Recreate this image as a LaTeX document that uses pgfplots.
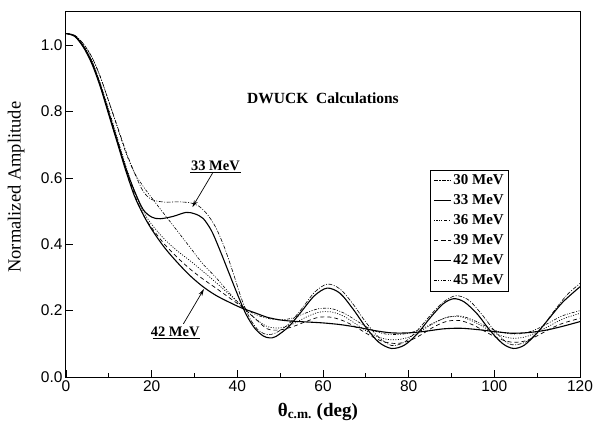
\documentclass[border=0pt]{standalone}
\usepackage{fontspec}
\setmainfont{Liberation Serif}
\newfontfamily\ticksf{Liberation Sans}
\usepackage{pgfplots}
\pgfplotsset{compat=1.18}
\usetikzlibrary{arrows.meta}

\begin{document}
\begin{tikzpicture}
  \useasboundingbox (-66pt,-49pt) rectangle (533pt,377pt);
  \begin{axis}[
      at={(0,0)}, anchor=origin,
      scale only axis,
      width=514pt, height=365pt,
      xmin=0, xmax=120, ymin=0, ymax=1.1,
      xtick={0,20,...,120}, minor xtick={10,30,...,110},
      ytick={0,0.2,...,1.0},
      tick pos=left, tick align=inside,
      major tick length=7pt, minor tick length=4pt,
      axis line style={line width=1pt},
      every tick/.style={line width=0.8pt},
      /pgf/number format/assume math mode=true,
      tick label style={font=\ticksf\fontsize{15.5}{15.5}\selectfont},
      yticklabel style={/pgf/number format/.cd, fixed, fixed zerofill, precision=1},
      xlabel={\bfseries θ\textsubscript{c.m.} (deg)},
      xlabel style={font=\fontsize{19}{19}\selectfont, at={(axis description cs:0.49,-0.095)}, anchor=center},
      ylabel={Normalized Amplitude},
      ylabel style={font=\fontsize{18.5}{18.5}\selectfont, at={(axis description cs:-0.097,0.52)}, anchor=center},
      legend style={at={(axis cs:85,0.625)}, anchor=north west,
        font=\bfseries\fontsize{15}{15}\selectfont, draw=black, line width=0.8pt,
        row sep=4.5pt, inner sep=3pt},
      legend cell align=left,
      legend image post style={line width=0.8pt},
      clip=false,
    ]
    % 30 MeV
    \addplot[black, line width=0.6pt, smooth, dash pattern=on 4pt off 1.5pt on 1pt off 1.5pt] coordinates {
      (0,1.035)(2,1.03)(4,1.005)(6,0.965)(8,0.905)(10,0.83)(12,0.755)(14,0.68)(16,0.615)
      (18,0.56)(20,0.535)(23,0.527)(26,0.528)(29,0.525)(31,0.515)(33,0.49)(35,0.45)
      (37,0.39)(39,0.315)(41,0.235)(43,0.175)(45,0.14)(47,0.128)(49,0.133)(52,0.16)
      (55,0.205)(58,0.255)(61,0.28)(64,0.265)(67,0.22)(70,0.165)(73,0.12)(76,0.095)
      (79,0.105)(82,0.14)(85,0.185)(88,0.225)(91,0.245)(94,0.232)(97,0.19)(100,0.14)
      (103,0.103)(105,0.097)(108,0.11)(111,0.148)(114,0.2)(117,0.248)(120,0.282)
    };
    \addlegendentry{30 MeV}
    % 33 MeV
    \addplot[black, line width=1.1pt, smooth] coordinates {
      (0,1.035)(2,1.028)(4,0.998)(6,0.95)(8,0.88)(10,0.795)(12,0.71)(14,0.628)(16,0.56)
      (18,0.505)(20,0.482)(22,0.477)(25,0.484)(28,0.496)(30,0.492)(32,0.478)(34,0.44)
      (36,0.38)(38,0.315)(40,0.25)(42,0.19)(44,0.148)(46,0.124)(47.5,0.118)(49,0.122)
      (52,0.152)(55,0.198)(58,0.245)(61,0.268)(64,0.252)(67,0.205)(70,0.15)(73,0.105)
      (76,0.086)(79,0.096)(82,0.13)(85,0.178)(88,0.22)(90.5,0.236)(93,0.226)(96,0.19)
      (99,0.14)(102,0.1)(104.5,0.086)(107,0.096)(110,0.133)(113,0.18)(116,0.226)(120,0.272)
    };
    \addlegendentry{33 MeV}
    % 36 MeV
    \addplot[black, line width=0.7pt, smooth, dash pattern=on 1pt off 1.5pt] coordinates {
      (0,1.035)(2,1.028)(4,1.0)(6,0.955)(8,0.885)(10,0.805)(12,0.72)(14,0.635)(16,0.56)
      (18,0.5)(20,0.46)(23,0.415)(26,0.38)(29,0.35)(32,0.318)(35,0.285)(38,0.25)(41,0.215)
      (44,0.178)(47,0.152)(50,0.148)(53,0.16)(56,0.18)(59,0.195)(62,0.196)(65,0.182)
      (68,0.157)(71,0.132)(74,0.116)(77,0.112)(80,0.12)(83,0.14)(86,0.163)(89,0.18)
      (92,0.182)(95,0.168)(98,0.147)(101,0.127)(104,0.117)(107,0.12)(110,0.135)
      (113,0.155)(116,0.175)(120,0.192)
    };
    \addlegendentry{36 MeV}
    % 39 MeV
    \addplot[black, line width=0.7pt, smooth, dash pattern=on 4pt off 3pt] coordinates {
      (0,1.035)(2,1.028)(4,0.998)(6,0.952)(8,0.882)(10,0.8)(12,0.715)(14,0.628)(16,0.55)
      (18,0.49)(20,0.45)(23,0.4)(26,0.36)(29,0.325)(32,0.295)(35,0.268)(38,0.24)(41,0.212)
      (44,0.178)(47,0.145)(50,0.142)(53,0.152)(56,0.167)(59,0.18)(62,0.18)(65,0.168)
      (68,0.148)(71,0.125)(74,0.107)(77,0.101)(80,0.108)(83,0.128)(86,0.152)(89,0.168)
      (92,0.17)(95,0.157)(98,0.136)(101,0.116)(104,0.105)(107,0.108)(110,0.124)
      (113,0.145)(116,0.162)(120,0.177)
    };
    \addlegendentry{39 MeV}
    % 42 MeV
    \addplot[black, line width=1.1pt, smooth] coordinates {
      (0,1.035)(2,1.027)(4,0.995)(6,0.945)(8,0.875)(10,0.79)(12,0.705)(14,0.62)(16,0.545)
      (18,0.49)(20,0.445)(23,0.39)(26,0.345)(29,0.305)(32,0.272)(35,0.246)(38,0.226)
      (41,0.208)(44,0.194)(47,0.18)(50,0.172)(53,0.168)(56,0.166)(60,0.163)(64,0.158)
      (68,0.15)(72,0.14)(76,0.133)(80,0.133)(84,0.138)(88,0.145)(92,0.147)(96,0.143)
      (100,0.137)(104,0.132)(108,0.134)(112,0.141)(116,0.153)(120,0.167)
    };
    \addlegendentry{42 MeV}
    % 45 MeV
    \addplot[black, line width=0.6pt, smooth, dash pattern=on 3pt off 1.5pt on 1pt off 1.5pt on 1pt off 1.5pt] coordinates {
      (0,1.035)(2,1.03)(4,1.005)(6,0.965)(8,0.905)(10,0.83)(12,0.752)(14,0.675)(16,0.615)
      (18,0.575)(20,0.54)(23,0.49)(26,0.44)(29,0.39)(32,0.34)(35,0.3)(38,0.255)(41,0.215)
      (44,0.19)(47,0.177)(50,0.172)(53,0.178)(56,0.193)(59,0.206)(62,0.206)(65,0.192)
      (68,0.168)(71,0.145)(74,0.131)(77,0.128)(80,0.132)(83,0.145)(86,0.164)(89,0.18)
      (92,0.184)(95,0.172)(98,0.153)(101,0.137)(104,0.13)(107,0.132)(110,0.145)
      (113,0.165)(116,0.185)(120,0.2)
    };
    \addlegendentry{45 MeV}

    % title
    \node[font=\bfseries\fontsize{15.5}{15.5}\selectfont] at (axis cs:60,0.84) {DWUCK\ \ Calculations};
    % 33 MeV annotation
    \node[font=\bfseries\fontsize{14.5}{14.5}\selectfont, anchor=south, inner sep=1.5pt] at (axis cs:34.9,0.618) {33 MeV};
    \draw[line width=0.8pt] (axis cs:29,0.618) -- (axis cs:40.8,0.618);
    \draw[line width=0.7pt, -{Stealth[length=7pt,width=4pt]}] (axis cs:34.2,0.614) -- (axis cs:29.5,0.512);
    % 42 MeV annotation
    \node[font=\bfseries\fontsize{14.5}{14.5}\selectfont, anchor=south, inner sep=1.5pt] at (axis cs:25.5,0.115) {42 MeV};
    \draw[line width=0.8pt] (axis cs:20.2,0.115) -- (axis cs:31.4,0.115);
    \draw[line width=0.7pt, -{Stealth[length=7pt,width=4pt]}] (axis cs:27.4,0.16) -- (axis cs:32.2,0.265);
  \end{axis}
\end{tikzpicture}
\end{document}
